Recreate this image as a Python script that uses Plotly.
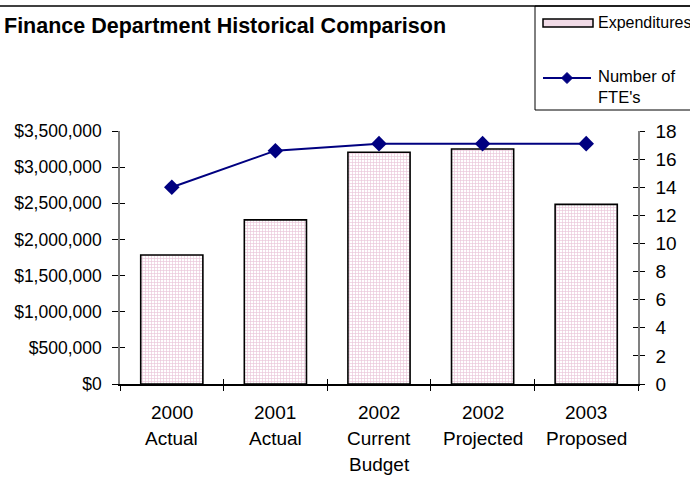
import plotly.graph_objects as go

# Chart data
categories = ["2000 Actual", "2001 Actual", "2002 Current Budget", "2002 Projected", "2003 Proposed"]
category_lines = [["2000", "Actual"], ["2001", "Actual"], ["2002", "Current", "Budget"],
                  ["2002", "Projected"], ["2003", "Proposed"]]
expenditures = [1785000, 2270000, 3205000, 3250000, 2485000]
fte_counts = [14.0, 16.6, 17.1, 17.1, 17.1]

W, H = 690, 477
ML, MR, MT, MB = 120, 52, 131, 93
PW, PH = W - ML - MR, H - MT - MB

FONT = "Liberation Sans, Arial, sans-serif"
NAVY = "#000080"


def px_x(x):
    return (x - ML) / PW


def px_y(y):
    return (H - MB - y) / PH


fig = go.Figure()

fig.add_trace(go.Bar(
    x=categories, y=expenditures, name="Expenditures", width=0.6,
    marker=dict(color="white", line=dict(color="black", width=1.6),
                pattern=dict(shape="+", fgcolor="#d48fb5", bgcolor="white", size=3, solidity=0.4)),
    yaxis="y", showlegend=False,
))

fig.add_trace(go.Scatter(
    x=categories, y=fte_counts, name="Number of FTE's", mode="lines+markers",
    line=dict(color=NAVY, width=2),
    marker=dict(symbol="diamond", size=12, color=NAVY),
    yaxis="y2", showlegend=False,
))

fig.update_layout(
    width=W, height=H,
    margin=dict(l=ML, r=MR, t=MT, b=MB),
    paper_bgcolor="white", plot_bgcolor="white",
    showlegend=False,
    xaxis=dict(type="category", categoryarray=categories, range=[-0.5, 4.5],
               showticklabels=False, showgrid=False, zeroline=False,
               showline=True, linecolor="black", linewidth=1.5,
               ticks="outside", ticklen=5, tickcolor="black", tickson="boundaries"),
    xaxis2=dict(overlaying="x", range=[-0.5, 4.5], showticklabels=False, showgrid=False,
                zeroline=False, showline=False, ticks="inside", ticklen=5, tickcolor="black",
                tickvals=[-0.5, 0.5, 1.5, 2.5, 3.5, 4.5], side="bottom", anchor="y"),
    yaxis=dict(range=[0, 3500000], dtick=500000, tickformat="$,",
               tickfont=dict(family=FONT, size=17.5, color="black"),
               showgrid=False, zeroline=False, showline=True, linecolor="#808080", linewidth=1.5,
               ticks="outside", ticklen=6, tickcolor="black", ticklabelstandoff=7),
    yaxis2=dict(range=[0, 18], dtick=2, overlaying="y", side="right",
                tickfont=dict(family=FONT, size=19, color="black"),
                showgrid=False, zeroline=False, showline=True, linecolor="#808080", linewidth=1.5,
                ticks="outside", ticklen=5, tickcolor="black", ticklabelstandoff=7),
    yaxis3=dict(range=[0, 3500000], dtick=500000, overlaying="y", side="left", anchor="x",
                showticklabels=False, showgrid=False, zeroline=False, showline=False,
                ticks="inside", ticklen=5, tickcolor="black"),
    yaxis4=dict(range=[0, 18], dtick=2, overlaying="y", side="right", anchor="x",
                showticklabels=False, showgrid=False, zeroline=False, showline=False,
                ticks="inside", ticklen=5, tickcolor="black"),
)

# Dummy traces so the overlay tick axes are drawn
fig.add_trace(go.Scatter(x=[None], y=[None], xaxis="x2", yaxis="y3", showlegend=False, hoverinfo="skip"))
fig.add_trace(go.Scatter(x=[None], y=[None], xaxis="x2", yaxis="y4", showlegend=False, hoverinfo="skip"))

# Category labels, one annotation per line
for cat, lines in zip(categories, category_lines):
    for i, line in enumerate(lines):
        fig.add_annotation(x=cat, xref="x", y=px_y(412 + 26 * i), yref="paper",
                           text=line, showarrow=False, xanchor="center", yanchor="middle",
                           font=dict(family=FONT, size=19, color="black"))

# Title
fig.add_annotation(x=px_x(2), y=px_y(26), xref="paper", yref="paper",
                   text="<b>Finance Department Historical Comparison</b>", showarrow=False,
                   xanchor="left", yanchor="middle",
                   font=dict(family=FONT, size=21.5, color="black"))

# Chart-area border along the top
fig.add_shape(type="line", xref="paper", yref="paper",
              x0=px_x(-5), x1=px_x(W + 5), y0=px_y(6), y1=px_y(6),
              line=dict(color="black", width=1.5))

# Legend box
fig.add_shape(type="rect", xref="paper", yref="paper",
              x0=px_x(535), x1=px_x(W + 10), y0=px_y(110), y1=px_y(6),
              line=dict(color="black", width=1), fillcolor="rgba(0,0,0,0)")
fig.add_shape(type="rect", xref="paper", yref="paper",
              x0=px_x(543), x1=px_x(593), y0=px_y(27), y1=px_y(19),
              line=dict(color="black", width=1.5), fillcolor="#f1dbe7")
fig.add_annotation(x=px_x(596), y=px_y(22), xref="paper", yref="paper",
                   text="Expenditures", showarrow=False, xanchor="left", yanchor="middle",
                   font=dict(family=FONT, size=16, color="black"))
fig.add_shape(type="line", xref="paper", yref="paper",
              x0=px_x(543), x1=px_x(591), y0=px_y(78), y1=px_y(78),
              line=dict(color=NAVY, width=2))
cx, cy, r = 567, 78, 5.5
fig.add_shape(type="path", xref="paper", yref="paper",
              path=f"M {px_x(cx - r)} {px_y(cy)} L {px_x(cx)} {px_y(cy - r)} "
                   f"L {px_x(cx + r)} {px_y(cy)} L {px_x(cx)} {px_y(cy + r)} Z",
              line=dict(color=NAVY, width=1), fillcolor=NAVY)
fig.add_annotation(x=px_x(596), y=px_y(87), xref="paper", yref="paper",
                   text="Number of<br>FTE's", showarrow=False, xanchor="left", yanchor="middle",
                   align="left", font=dict(family=FONT, size=16.5, color="black"))

fig.write_html("out.html")
